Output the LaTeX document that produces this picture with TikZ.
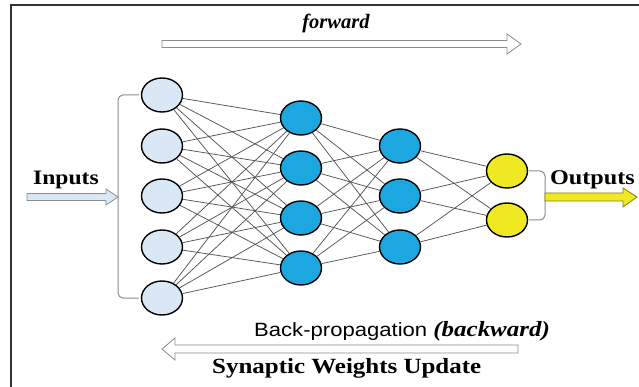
\documentclass[tikz,border=0pt]{standalone}
\usepackage{fontspec}
\usepackage{graphicx}
\setmainfont{Liberation Serif}
\newfontfamily\arialf{Liberation Sans}
\usetikzlibrary{shapes.geometric}
\definecolor{inblue}{RGB}{218,232,246}
\definecolor{hidblue}{RGB}{29,167,224}
\definecolor{outyel}{RGB}{240,232,32}
\definecolor{edgegray}{RGB}{85,85,85}
\definecolor{arrgray}{RGB}{140,140,140}
\newcommand\hstr[1]{\scalebox{1.15}[1]{#1}}
\begin{document}
\begin{tikzpicture}[x=1pt,y=-1pt,
  neuron/.style={ellipse,draw=black,line width=1.4pt,minimum width=41pt,minimum height=34pt,inner sep=0pt},
  inn/.style={neuron,fill=inblue},
  hid/.style={neuron,fill=hidblue},
  outn/.style={neuron,fill=outyel},
  syn/.style={draw=edgegray,line width=0.75pt},
  brk/.style={draw=arrgray,line width=1pt,rounded corners=5pt},
  blk/.style={draw=arrgray,line width=0.8pt,line join=miter},
  lbl/.style={inner sep=0pt,font=\fontsize{20.5}{22}\selectfont\bfseries}
]
\useasboundingbox (0,0) rectangle (639,387);
\fill[white] (0,0) rectangle (639,387);
% frame
\draw[line width=1.3pt,draw=black!80] (11,387) -- (11,5) -- (639,5);

% neurons
\foreach \i/\y in {1/95,2/146,3/196,4/247,5/298}
  \node[inn] (i\i) at (162,\y) {};
\foreach \i/\y in {1/118,2/168,3/218,4/268}
  \node[hid] (h\i) at (301,\y) {};
\foreach \i/\y in {1/146,2/196,3/247}
  \node[hid] (k\i) at (400,\y) {};
\foreach \i/\y in {1/171,2/220}
  \node[outn] (o\i) at (507,\y) {};

% synapses
\foreach \a in {1,...,5}
  \foreach \b in {1,...,4}
    \draw[syn] (i\a) -- (h\b);
\foreach \a in {1,...,4}
  \foreach \b in {1,...,3}
    \draw[syn] (h\a) -- (k\b);
\foreach \a in {1,...,3}
  \foreach \b in {1,2}
    \draw[syn] (k\a) -- (o\b);

% brackets
\draw[brk] ([xshift=-2pt]i1.west) -- (118,95) -- (118,298) -- ([xshift=-2pt]i5.west);
\draw[brk] ([xshift=1pt]o1.east) -- (545,171) -- (545,220) -- ([xshift=1pt]o2.east);

% inputs arrow
\coordinate (inTip) at (118,197);
\draw[blk,fill=inblue] (27,193.5) -- (106,193.5) -- (106,189) -- (inTip) -- (106,205) -- (106,200.5) -- (27,200.5) -- cycle;
\node[lbl,anchor=base west] (inputs) at (33,185) {\hstr{Inputs}};

% outputs arrow
\coordinate (outTip) at (637,197);
\draw[blk,draw=black!45!outyel,fill=outyel] (545,193) -- (623,193) -- (623,188) -- (outTip) -- (623,207) -- (623,201) -- (545,201) -- cycle;
\node[lbl,anchor=base west,font=\fontsize{21}{22}\selectfont\bfseries] (outputs) at (550,185) {\hstr{Outputs}};

% forward arrow
\coordinate (fwTip) at (521,44);
\draw[blk,fill=white] (162,40.5) -- (507,40.5) -- (507,34) -- (fwTip) -- (507,54) -- (507,47.5) -- (162,47.5) -- cycle;
\node[lbl,anchor=base,font=\fontsize{20.5}{22}\selectfont\bfseries\itshape] (fwd) at (336,29) {forward};

% backward arrow
\coordinate (bwTip) at (162,349);
\draw[blk,fill=white] (518,345) -- (175,345) -- (175,338) -- (bwTip) -- (175,360) -- (175,353) -- (518,353) -- cycle;
\node[inner sep=0pt,anchor=base west] (bp) at (254,336)
  {\hstr{\fontsize{19.2}{20}\selectfont\arialf Back-propagation \fontsize{21.7}{22}\selectfont\rmfamily\bfseries\itshape(backward)}};
\node[lbl,anchor=base west,font=\fontsize{21.7}{23}\selectfont\bfseries] (swu) at (212,373) {\hstr{Synaptic Weights Update}};
\end{tikzpicture}
\end{document}
